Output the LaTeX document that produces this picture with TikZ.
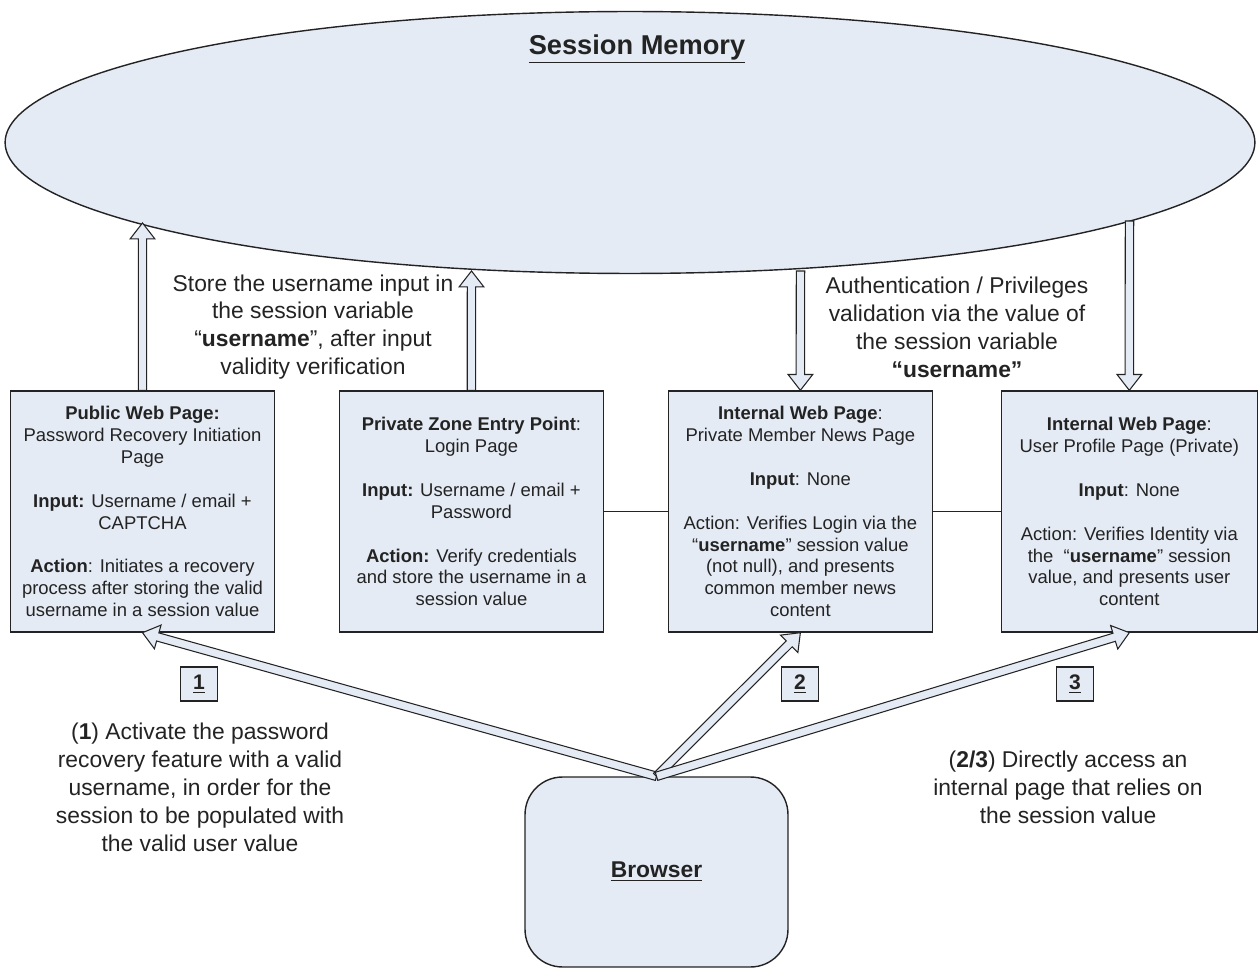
\documentclass[tikz,border=0pt]{standalone}
\usepackage{fontspec}
\setmainfont{Liberation Sans}
\usetikzlibrary{shapes,positioning,calc}
\definecolor{memfill}{RGB}{229,235,245}
\definecolor{inkgray}{RGB}{35,35,35}
\tikzstyle{page} = [draw, fill=memfill, rectangle, line width=0.8pt,
    minimum width=5.28cm, minimum height=4.82cm, align=center,
    font=\fontsize{10.5}{12.5}\selectfont]
\tikzstyle{note} = [align=center, font=\fontsize{13}{15.9}\selectfont]
\tikzstyle{tag} = [draw, fill=memfill, rectangle, line width=0.8pt,
    minimum width=0.74cm, minimum height=0.68cm, font=\bfseries\fontsize{12}{14}\selectfont]
\tikzstyle{hollow} = [draw, fill=memfill, line width=0.6pt, line join=miter]

% block arrow drawn as an outline, from #1 to #2
\newcommand{\hollowarrow}[2]{%
  \coordinate (ha_s) at (#1);
  \coordinate (ha_e) at (#2);
  \coordinate (ha_q) at ($(ha_e)!9pt!(ha_s)$);
  \draw[hollow] ($(ha_s)!2.4pt!90:(ha_e)$) -- ($(ha_q)!2.4pt!90:(ha_e)$)
    -- ($(ha_q)!7pt!90:(ha_e)$) -- (ha_e) -- ($(ha_q)!7pt!-90:(ha_e)$)
    -- ($(ha_q)!2.4pt!-90:(ha_e)$) -- ($(ha_s)!2.4pt!-90:(ha_e)$) -- cycle;
}

\begin{document}
\begin{tikzpicture}[x=0.02cm, y=-0.02cm, node distance=6.58cm, color=inkgray]
      \useasboundingbox (0,0) rectangle (1258,969);
      % the session store on top
      \node[ellipse, draw, fill=memfill, line width=0.8pt, minimum width=25cm,
          minimum height=5.24cm, inner sep=0pt] (mem) at (630,142.5) {};
      \node[font=\bfseries\fontsize{15.5}{18}\selectfont] (mem_title) at (637,49)
          {\underline{Session Memory}};

      % the four pages
      \node[page] (recovery_page) at (142.5,511.5) {\textbf{Public Web Page:}\\
          Password Recovery Initiation\\ Page\\[12.5pt]
          \textbf{Input:} Username / email +\\ CAPTCHA\\[12.5pt]
          \textbf{Action}: Initiates a recovery\\ process after storing the valid\\
          username in a session value};
      \node[page, right of = recovery_page] (login_page) {\textbf{Private Zone Entry Point}:\\
          Login Page\\[12.5pt]
          \textbf{Input:} Username / email +\\ Password\\[12.5pt]
          \textbf{Action:} Verify credentials\\ and store the username in a\\ session value};
      \node[page, right of = login_page] (news_page) {\textbf{Internal Web Page}:\\
          Private Member News Page\\[12.5pt]
          \textbf{Input}: None\\[12.5pt]
          Action: Verifies Login via the\\ “\textbf{username}” session value\\
          (not null), and presents\\ common member news\\ content};
      \node[page, right of = news_page, minimum width=5.12cm] (profile_page) {\textbf{Internal Web Page}:\\
          User Profile Page (Private)\\[12.5pt]
          \textbf{Input}: None\\[12.5pt]
          Action: Verifies Identity via\\ the \ “\textbf{username}” session\\
          value, and presents user\\ content};

      \draw[line width=0.8pt] (login_page) -- (news_page);
      \draw[line width=0.8pt] (news_page) -- (profile_page);

      % the client
      \node[draw, fill=memfill, rectangle, rounded corners=0.75cm, line width=0.8pt,
          minimum width=5.26cm, minimum height=3.8cm,
          font=\bfseries\fontsize{13}{15}\selectfont] (browser) at (656.5,872)
          {\raisebox{-3pt}{\underline{Browser}}};

      % texts
      \node[note] (store_note) at (313,327) {Store the username input in\\
          the session variable\\ “\textbf{username}”, after input\\ validity verification};
      \node[note] (auth_note) at (957,327) {Authentication / Privileges\\
          validation via the value of\\ the session variable\\ \textbf{“username”}};
      \node[note] (recovery_note) at (200,787) {(\textbf{1}) Activate the password\\
          recovery feature with a valid\\ username, in order for the\\
          session to be populated with\\ the valid user value};
      \node[note] (direct_note) at (1068,787) {(\textbf{2/3}) Directly access an\\
          internal page that relies on\\ the session value};

      \node[tag] (tag_one) at (199,684) {\underline{1}};
      \node[tag] (tag_two) at (800,684) {\underline{2}};
      \node[tag] (tag_three) at (1075,684) {\underline{3}};

      % session reads and writes
      \coordinate (mem_a) at (142.5,223);
      \coordinate (mem_b) at (471.5,271);
      \coordinate (mem_c) at (800.5,271);
      \coordinate (mem_d) at (1129.5,221);
      \hollowarrow{recovery_page.north}{mem_a}
      \hollowarrow{login_page.north}{mem_b}
      \hollowarrow{mem_c}{news_page.north}
      \hollowarrow{mem_d}{profile_page.north}

      % requests from the browser
      \hollowarrow{browser.north}{recovery_page.south}
      \hollowarrow{browser.north}{news_page.south}
      \hollowarrow{browser.north}{profile_page.south}
  \end{tikzpicture}
\end{document}
